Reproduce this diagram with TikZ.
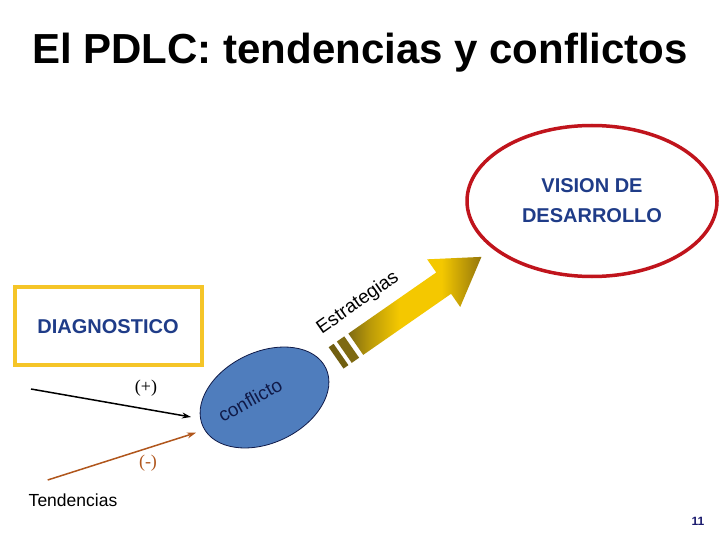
\documentclass[tikz,border=0pt]{standalone}
\usepackage{fontspec}
\setmainfont{Liberation Sans}
\newfontfamily\serifnum{Liberation Serif}
\usetikzlibrary{shapes.geometric,arrows.meta}
\definecolor{navytext}{HTML}{1F3C88}
\definecolor{boxyellow}{HTML}{F5C528}
\definecolor{visionred}{HTML}{C0141C}
\definecolor{confblue}{HTML}{4F7DBD}
\definecolor{confnavy}{HTML}{101A48}
\definecolor{tendbrown}{HTML}{B0561C}
\definecolor{olivedark}{HTML}{7E6A12}
\definecolor{goldmid}{HTML}{F4C800}
\definecolor{goldend}{HTML}{94760C}
\definecolor{pagenum}{HTML}{1A1A6E}
\pgfdeclarehorizontalshading{stratshade}{100bp}{color(0bp)=(olivedark); color(25bp)=(olivedark); color(33bp)=(olivedark!50!goldmid); color(44bp)=(goldmid); color(60bp)=(goldmid); color(75bp)=(goldend); color(100bp)=(goldend)}
\tikzset{
  lbl/.style={inner sep=0pt, outer sep=0pt},
  bigbold/.style={lbl, font=\fontsize{20}{25}\selectfont\bfseries, text=navytext, align=center},
  trend/.style={line width=1.5pt, -{Stealth[length=9pt,width=6pt]}}
}
\begin{document}
\begin{tikzpicture}[x=1pt,y=-1pt]
\fill[white] (0,0) rectangle (720,540);
\useasboundingbox (0,0) rectangle (720,540);

% title
\node[lbl, anchor=base, font=\fontsize{42}{50}\selectfont\bfseries] (title) at (360,64) {El PDLC: tendencias y conflictos};

% vision ellipse
\node[draw=visionred, line width=3.5pt, ellipse, minimum width=250pt, minimum height=151pt, inner sep=0pt] (vision) at (592,201) {};
\node[bigbold] (visiontext) at (592,201) {VISION DE\\[5pt]DESARROLLO};

% diagnostico box
\node[draw=boxyellow, line width=4pt, minimum width=187pt, minimum height=78pt, inner sep=0pt] (diag) at (108.3,326.2) {};
\node[bigbold] (diagtext) at (108,327) {DIAGNOSTICO};

% strategy arrow
\begin{scope}[shift={(355.8,344.2)}, rotate=34.8]
  \fill[olivedark] (-14,-13) rectangle (-5,13);
  \fill[olivedark!90!black] (-24,-13) rectangle (-18,13);
  \shade[shading=stratshade]
    (0,-13) -- (107,-13) -- (107,-29) -- (153,0) -- (107,29) -- (107,13) -- (0,13) -- cycle;
\end{scope}
\node[lbl, rotate=35, font=\fontsize{19}{23}\selectfont] (estr) at (358,303) {Estrategias};

% conflict ellipse
\node[draw=confnavy, line width=0.8pt, fill=confblue, ellipse, rotate=25.6, minimum width=136pt, minimum height=91pt, inner sep=0pt] (conf) at (264.5,397.5) {};
\node[lbl, rotate=29, text=confnavy, font=\fontsize{19}{23}\selectfont] (conftext) at (250,400) {conflicto};

% trends
\coordinate (plusstart) at (31,389);
\coordinate (plusend) at (191,417);
\coordinate (minusstart) at (47.7,480);
\coordinate (minusend) at (196,432.7);
\draw[trend, black] (plusstart) -- (plusend);
\draw[trend, tendbrown] (minusstart) -- (minusend);
\node[lbl, font=\serifnum\fontsize{18}{22}\selectfont] (plus) at (146,388) {(+)};
\node[lbl, text=tendbrown, font=\serifnum\fontsize{18}{22}\selectfont] (minus) at (148,463) {(-)};
\node[lbl, font=\fontsize{17.5}{21}\selectfont] (tend) at (73,500) {Tendencias};

% page number
\node[lbl, text=pagenum, font=\fontsize{12}{14}\selectfont\bfseries] (page) at (698,521) {11};
\end{tikzpicture}
\end{document}
